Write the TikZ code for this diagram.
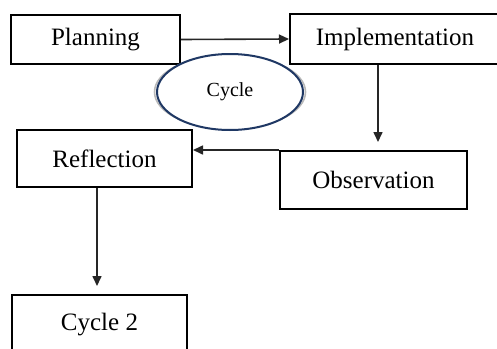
\documentclass[tikz,border=0pt]{standalone}
\usepackage{fontspec}
\setmainfont{Liberation Serif}
\usetikzlibrary{positioning,arrows.meta,shapes.geometric}

\tikzset{
  stage/.style={draw=black, line width=2pt, rectangle, align=center,
    font=\fontsize{25}{30}\selectfont, inner sep=0pt},
  loopmark/.style={draw={rgb,255:red,31;green,56;blue,100}, line width=2pt,
    ellipse, minimum width=146pt, minimum height=76pt, inner sep=0pt,
    font=\fontsize{20}{24}\selectfont},
  flow/.style={draw=black!85, line width=1.6pt,
    -{Triangle[length=10pt,width=9pt]}},
}

\begin{document}
\begin{tikzpicture}[x=1pt,y=-1pt]
    \useasboundingbox (0,0) rectangle (497,348);

    \node[stage, minimum width=169pt, minimum height=49pt] (plan) at (95.5,39.5) {Planning};
    \node[stage, minimum width=210pt, minimum height=50pt] (impl) at (395,39) {Implementation};
    \node[stage, minimum width=187pt, minimum height=58pt] (obs) at (373.5,180) {Observation};
    \node[stage, minimum width=175pt, minimum height=57pt] (refl) at (104.5,158.5) {Reflection};
    \node[stage, minimum width=175pt, minimum height=60pt] (cyc2) at (99.5,325) {Cycle 2};

    % the cycle mark, with its grey shadow
    \draw[gray!55, line width=1.6pt] (230,92) ellipse [x radius=75.5, y radius=37];
    \node[loopmark, fill=white] (cyc) at (230,92) {Cycle};

    \coordinate[above=8pt of obs.north, xshift=4.5pt] (obstip);
    \coordinate[above=8pt of cyc2.north, xshift=-2.5pt] (cyc2tip);

    \draw[flow] (plan.east) -- (impl.west);
    \draw[flow] (impl.south -| obstip) -- (obstip);
    \draw[flow] (obs.north west) -- (obs.north west -| refl.east);
    \draw[flow] (refl.south -| cyc2tip) -- (cyc2tip);
\end{tikzpicture}
\end{document}
